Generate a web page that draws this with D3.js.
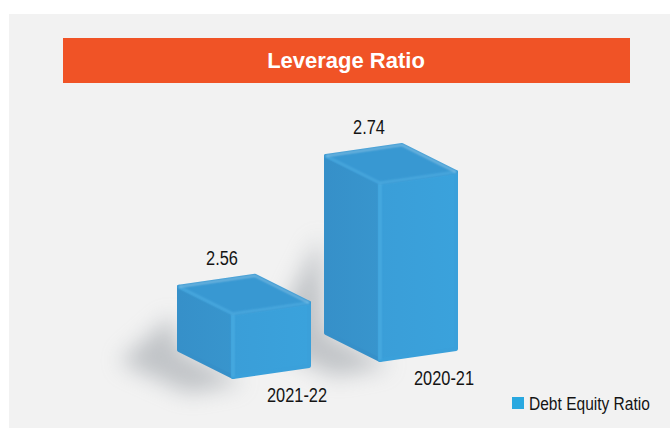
<!DOCTYPE html>
<html>
<head>
<meta charset="utf-8">
<script src="https://cdn.jsdelivr.net/npm/d3@7"></script>
<style>
  html, body { margin: 0; padding: 0; background: #ffffff; }
  svg { display: block; }
</style>
</head>
<body>
<svg id="chart" width="670" height="430"></svg>
<script>
// Leverage ratio data
const title = "Leverage Ratio";
const categories = ["2021-22", "2020-21"];
const values = [2.56, 2.74];
const valueLabels = ["2.56", "2.74"];
const seriesName = "Debt Equity Ratio";

const W = 670, H = 430;
const svg = d3.select("#chart");
const labelFont = "'Liberation Sans', Arial, sans-serif";
const squeeze = 0.84; // condensed look for the labels

const defs = svg.append("defs");
defs.append("filter").attr("id", "soft").attr("x", "-80%").attr("y", "-80%").attr("width", "260%").attr("height", "260%")
  .append("feGaussianBlur").attr("stdDeviation", 11);
defs.append("filter").attr("id", "edge").append("feGaussianBlur").attr("stdDeviation", 1);

const gFront = defs.append("linearGradient").attr("id", "front").attr("x1", 0).attr("x2", 1).attr("y1", 0).attr("y2", 0);
gFront.append("stop").attr("offset", "0%").attr("stop-color", "#3a9ed8");
gFront.append("stop").attr("offset", "100%").attr("stop-color", "#3aa2dc");
const gLeft = defs.append("linearGradient").attr("id", "left").attr("x1", 0).attr("x2", 1).attr("y1", 0).attr("y2", 0);
gLeft.append("stop").attr("offset", "0%").attr("stop-color", "#3690c9");
gLeft.append("stop").attr("offset", "100%").attr("stop-color", "#3895cd");

// Panel background
svg.append("rect").attr("x", 9).attr("y", 14).attr("width", W - 9).attr("height", 414).attr("fill", "#f2f2f2");

// Title banner
svg.append("rect").attr("x", 63).attr("y", 38).attr("width", 567).attr("height", 45).attr("fill", "#f05326");
svg.append("text").attr("x", 346).attr("y", 68).attr("text-anchor", "middle")
  .attr("font-family", "'Liberation Sans', Arial, sans-serif").attr("font-weight", "bold")
  .attr("font-size", 22).attr("fill", "#ffffff").text(title);

// Scales: horizontal placement of each box and its height above the floor
const x = d3.scalePoint().domain(categories).range([233, 380]);
const floor = d3.scaleLinear().domain([233, 380]).range([377, 360]);
const h = d3.scaleLinear().domain([2.46, 2.74]).range([0, 177]);

// Oblique box vectors: width runs slightly upward, depth recedes up-left
const wv = [76, -11];
const dv = [-54, -27];

const add = (a, b) => [a[0] + b[0], a[1] + b[1]];
const boxes = categories.map((c, i) => {
  const px = x(c), py = floor(px), ht = h(values[i]);
  const P = [px, py];
  const up = a => [a[0], a[1] - ht];
  const F0 = P, F1 = add(P, wv), B0 = add(P, dv), B1 = add(add(P, wv), dv);
  return {
    cat: c, label: valueLabels[i], ht,
    front: [F0, F1, up(F1), up(F0)],
    left: [F0, B0, up(B0), up(F0)],
    top: [up(F0), up(F1), up(B1), up(B0)],
    F0, F1, B0, B1, up
  };
});

const line = d3.line();

// Soft floor shadows cast toward the left
svg.append("g").selectAll("path").data(boxes).join("path")
  .attr("d", d => line([
      [d.B0[0] - 6, d.B0[1] - d.ht * 0.55],
      add(d.B0, [-60, 12]),
      add(d.F0, [-45, 16]),
      add(d.F0, [10, 6]),
      d.F0, d.B0]) + "Z")
  .attr("fill", "#8f959c").attr("opacity", 0.5).attr("filter", "url(#soft)");

const g = svg.append("g").selectAll("g").data(boxes).join("g");

// Faces with rounded joins to soften the edges
g.append("path").attr("d", d => line(d.left) + "Z")
  .attr("fill", "url(#left)").attr("stroke", "#3690c9").attr("stroke-width", 4).attr("stroke-linejoin", "round");
g.append("path").attr("d", d => line(d.front) + "Z")
  .attr("fill", "url(#front)").attr("stroke", "#3aa0da").attr("stroke-width", 4).attr("stroke-linejoin", "round");
g.append("path").attr("d", d => line(d.top) + "Z")
  .attr("fill", "#3898d2").attr("stroke", "#3898d2").attr("stroke-width", 4).attr("stroke-linejoin", "round");

// Soft bevel highlights along the rounded edges
g.append("path")
  .attr("d", d => line([d.up(d.B0), d.up(d.F0), d.up(d.F1)]) + "M" + d.up(d.F0) + "L" + d.F0)
  .attr("fill", "none").attr("stroke", "#52b0e4").attr("stroke-width", 2.5).attr("stroke-linejoin", "round")
  .attr("opacity", 0.7).attr("filter", "url(#edge)");
g.append("path")
  .attr("d", d => line([d.up(d.B0), d.up(d.B1), d.up(d.F1)]))
  .attr("fill", "none").attr("stroke", "#cfe6f4").attr("stroke-width", 1.4).attr("stroke-linejoin", "round")
  .attr("opacity", 0.55).attr("filter", "url(#edge)");

// Condensed text helper
function label(sel, px, py, size, anchor) {
  return sel.append("text")
    .attr("transform", d => `translate(${px(d)},${py(d)}) scale(${squeeze},1)`)
    .attr("text-anchor", anchor).attr("font-family", labelFont).attr("font-size", size).attr("fill", "#141414");
}

// Value labels above each box
label(g, d => d3.mean(d.top, p => p[0]) - 22, d => d.up(d.B1)[1] - 11, 19.5, "middle").text(d => d.label);

// Category labels under the front-right corner
label(g, d => d.F1[0] - 12, d => d.F1[1] + 36, 19.5, "middle").text(d => d.cat);

// Legend
const lg = svg.append("g").attr("transform", "translate(512,397)");
lg.append("rect").attr("width", 12).attr("height", 12).attr("fill", "#29a8e0");
label(lg, () => 17, () => 12.5, 18.5, "start").text(seriesName);
</script>
</body>
</html>
